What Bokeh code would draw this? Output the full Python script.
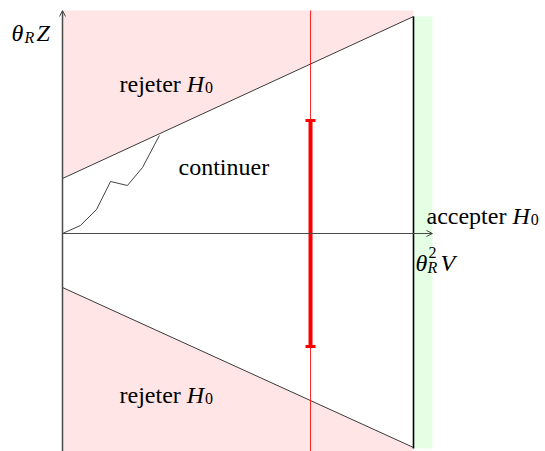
from bokeh.plotting import figure
from bokeh.models import Range1d, Label, Arrow, OpenHead, Whisker, TeeHead, ColumnDataSource
from bokeh.embed import file_html
from bokeh.resources import INLINE

# --- sequential test: boundaries, sample path and decision interval ---
v_end = 1.0                 # truncation point on the theta_R^2 V axis
up_intercept, up_slope = 0.55, 1.62     # upper boundary  a + b v
lo_intercept, lo_slope = 0.54, 1.60     # lower boundary -(a + b v)
y_top, y_bottom = 2.23, -2.18
accept_strip = 1.054

path_v = [0.0, 0.051, 0.097, 0.137, 0.185, 0.228, 0.276]
path_z = [0.0, 0.08, 0.24, 0.52, 0.48, 0.66, 0.98]

stop_v = 0.7066
interval_half = 1.13

PINK = "#FFE5E5"
GREEN = "#E5FFE5"
LINE = "#3a3a3a"
AXIS = "#4a4a4a"
FONT = "Liberation Serif"
FS = 24
SUB = 16

p = figure(width=545, height=451, output_backend="svg", toolbar_location=None,
           x_range=Range1d(-62 / 351, 483 / 351), y_range=Range1d(-2.18, 2.33),
           min_border=0, background_fill_color="white", border_fill_color="white")
p.axis.visible = False
p.grid.visible = False
p.outline_line_color = None

up_end = up_intercept + up_slope * v_end
lo_end = -(lo_intercept + lo_slope * v_end)

# rejection regions
p.patch([0, v_end, v_end, 0], [up_intercept, up_end, y_top, y_top],
        fill_color=PINK, line_color=None)
p.patch([0, v_end, v_end, 0], [-lo_intercept, lo_end, y_bottom, y_bottom],
        fill_color=PINK, line_color=None)
# acceptance strip
p.quad(left=v_end, right=accept_strip, bottom=lo_end - 0.01, top=up_end,
       fill_color=GREEN, line_color=None)

# boundaries
p.line([0, v_end], [up_intercept, up_end], line_color=LINE, line_width=1)
p.line([0, v_end], [-lo_intercept, lo_end], line_color=LINE, line_width=1)
p.line([v_end, v_end], [lo_end - 0.01, up_end], line_color="black", line_width=1.6)

# axes with arrows
p.add_layout(Arrow(x_start=0, y_start=y_bottom, x_end=0, y_end=y_top,
                   line_color=AXIS, line_width=1.5,
                   end=OpenHead(size=6, line_color=AXIS, line_width=1)))
p.add_layout(Arrow(x_start=0, y_start=0, x_end=accept_strip, y_end=0,
                   line_color=AXIS, line_width=1.2,
                   end=OpenHead(size=6, line_color=AXIS, line_width=1)))

# sample path
p.line(path_v, path_z, line_color="#444444", line_width=1)

# stopping time and interval
p.line([stop_v, stop_v], [y_bottom, y_top], line_color="red", line_width=1, line_alpha=0.85)
src = ColumnDataSource(dict(base=[stop_v], lower=[-interval_half], upper=[interval_half]))
p.add_layout(Whisker(source=src, base="base", lower="lower", upper="upper",
                     dimension="height", line_color="red", line_width=4,
                     upper_head=TeeHead(size=10, line_color="red", line_width=3),
                     lower_head=TeeHead(size=10, line_color="red", line_width=3)))

# text helpers: pixel-based placement of composite labels
W = {"r": 333, "e": 444, "j": 278, "t": 278, " ": 250, "c": 444, "o": 500, "n": 500,
     "i": 278, "u": 500, "p": 500, "a": 444}


def tw(s, size):
    return sum(W.get(ch, 500) for ch in s) * size / 1000


def dx(px):
    return (px - 62) / 351


def dy(py):
    return (233 - py) / 100


def put(text, px, py, size=FS, style="normal"):
    p.add_layout(Label(x=dx(px), y=dy(py), text=text, text_font=FONT,
                       text_font_size=f"{size}px", text_font_style=style,
                       text_color="black", text_baseline="alphabetic", text_align="left"))


def h0(px, py):
    put("H", px, py, style="italic")
    put("0", px + 0.722 * FS + 1, py + 4, size=SUB)


def reject_label(px, py):
    put("rejeter", px, py)
    h0(px + tw("rejeter ", FS), py)


reject_label(119, 83)
reject_label(119, 394)
put("continuer", 178, 166)

ax = 426
put("accepter", ax, 215)
h0(ax + tw("accepter ", FS), 215)

# vertical axis label: theta_R Z
put("θ", 11, 32, style="italic")
put("R", 24, 37, size=SUB, style="italic")
put("Z", 36, 32, style="italic")

# horizontal axis label: theta_R^2 V
put("θ", 415, 262, style="italic")
put("2", 428, 252, size=SUB)
put("R", 427, 267, size=SUB, style="italic")
put("V", 440, 262, style="italic")

open("out.html", "w").write(file_html(p, INLINE))
